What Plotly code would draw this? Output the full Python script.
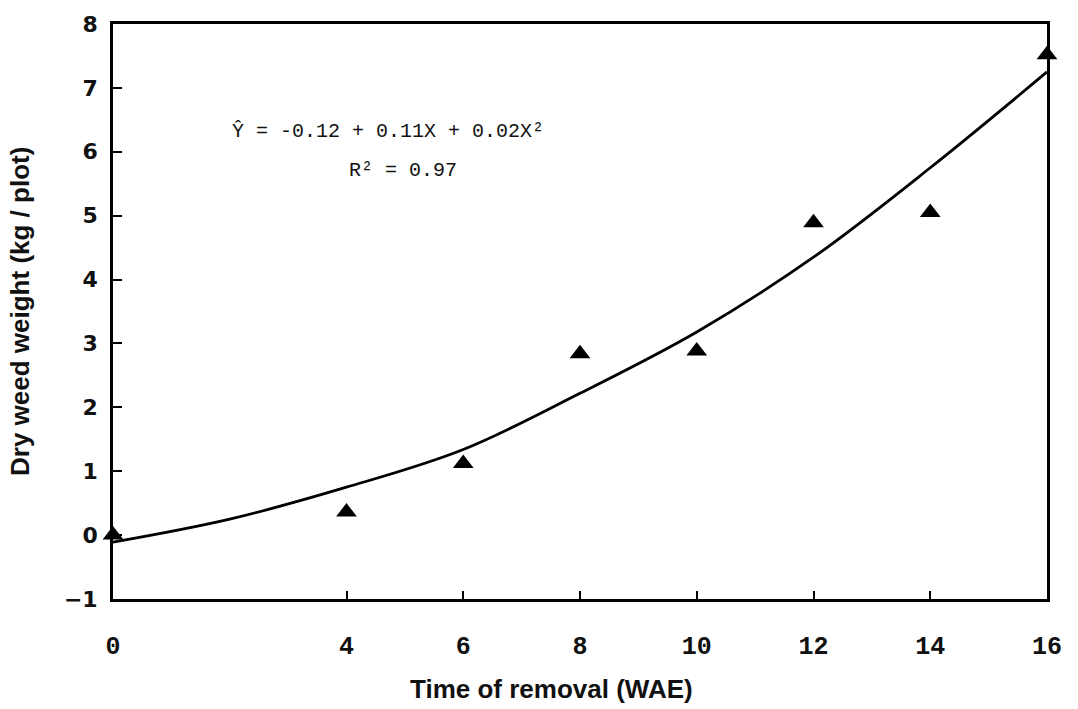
import plotly.graph_objects as go

# Observed data (triangles)
weeks = [0, 4, 6, 8, 10, 12, 14, 16]
dry_weight = [0.0, 0.36, 1.12, 2.84, 2.88, 4.89, 5.05, 7.52]

# Fitted curve
fit_x = [0, 2, 4, 6, 8, 10, 12, 14, 16]
fit_y = [-0.11, 0.25, 0.75, 1.34, 2.22, 3.18, 4.35, 5.75, 7.25]

x_ticks = [0, 4, 6, 8, 10, 12, 14, 16]
y_ticks = [-1, 0, 1, 2, 3, 4, 5, 6, 7, 8]

L, R, T, B = 113, 31, 20, 110
W, H = 1078, 709
pw, ph = W - L - R, H - T - B

def px_x(px):
    return (px - L) / pw

def px_y(py):
    return (H - B - py) / ph

fig = go.Figure()
fig.add_trace(go.Scatter(
    x=fit_x, y=fit_y, mode="lines", line=dict(color="black", width=2.8, shape="spline"),
    cliponaxis=False, showlegend=False, hoverinfo="skip"))
fig.add_trace(go.Scatter(
    x=weeks, y=dry_weight, mode="markers",
    marker=dict(symbol="triangle-up", size=18, color="black"),
    cliponaxis=False, showlegend=False))

fig.update_layout(
    width=W, height=H,
    margin=dict(l=L, r=R, t=T, b=B),
    paper_bgcolor="white", plot_bgcolor="white",
    xaxis=dict(range=[0, 16], tickvals=x_ticks, ticktext=["<b>%d</b>" % v for v in x_ticks],
               ticks="inside", ticklen=8, tickwidth=2, tickcolor="black",
               showline=True, linecolor="black", linewidth=2.8, mirror=True,
               showgrid=False, zeroline=False, ticklabelstandoff=22,
               tickfont=dict(family="Liberation Mono", size=25, color="#111"),
               ),
    yaxis=dict(range=[-1, 8], tickvals=y_ticks,
               ticktext=["<b>%s</b>" % ("\u22121" if v < 0 else str(v)) for v in y_ticks],
               ticks="inside", ticklen=9, tickwidth=2, tickcolor="black",
               showline=True, linecolor="black", linewidth=2.8, mirror=True,
               showgrid=False, zeroline=False, ticklabelstandoff=8,
               tickfont=dict(family="DejaVu Sans", size=22, color="#111")),
    annotations=[
        dict(text="<b>Time of removal (WAE)</b>", xref="paper", yref="paper",
             x=px_x(551), y=px_y(690), xanchor="center", yanchor="middle", showarrow=False,
             font=dict(family="Liberation Sans", size=26, color="#111")),
        dict(text="<b>Dry weed weight (kg / plot)</b>", xref="paper", yref="paper",
             x=px_x(20), y=px_y(310), xanchor="center", yanchor="middle", showarrow=False,
             textangle=-90, font=dict(family="Liberation Sans", size=26, color="#111")),
        dict(text="\u0176 = -0.12 + 0.11X + 0.02X\u00b2", xref="paper", yref="paper",
             x=px_x(388), y=px_y(128), xanchor="center", yanchor="middle", showarrow=False,
             font=dict(family="Liberation Mono", size=20, color="#111")),
        dict(text="R\u00b2 = 0.97", xref="paper", yref="paper",
             x=px_x(403), y=px_y(168), xanchor="center", yanchor="middle", showarrow=False,
             font=dict(family="Liberation Mono", size=20, color="#111")),
    ],
)

fig.write_html("out.html")
